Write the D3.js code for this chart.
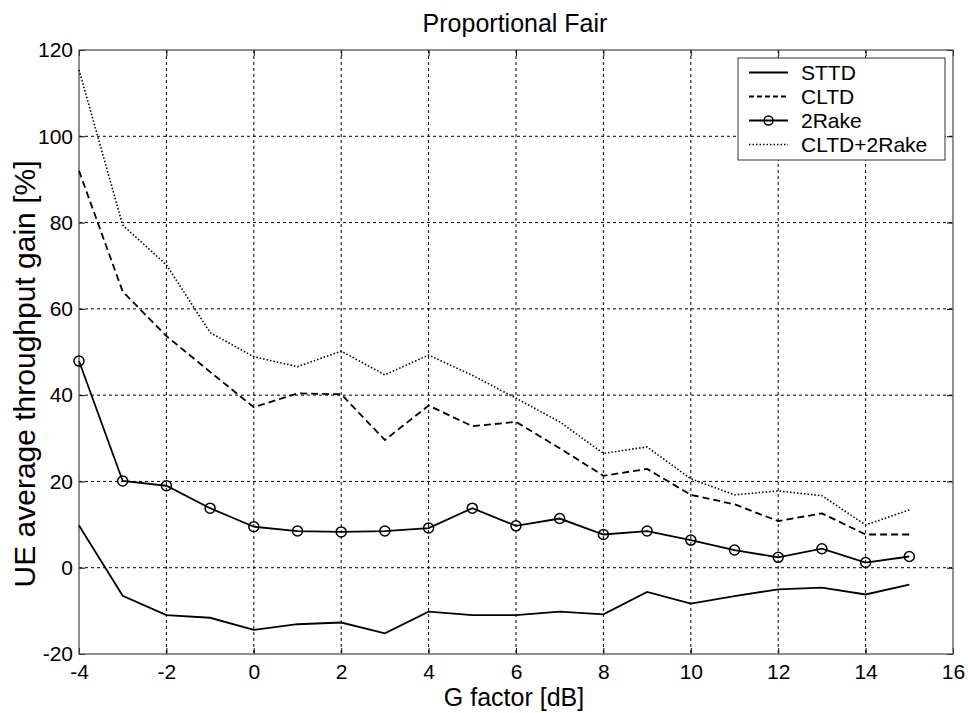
<!DOCTYPE html>
<html>
<head>
<meta charset="utf-8">
<script src="https://cdn.jsdelivr.net/npm/d3@7"></script>
<style>
body { margin: 0; background: #fff; }
svg { font-family: "Liberation Sans", Arial, sans-serif; }
</style>
</head>
<body>
<svg id="chart" width="968" height="713"></svg>
<script>
// G factor [dB]
const gFactor = [-4, -3, -2, -1, 0, 1, 2, 3, 4, 5, 6, 7, 8, 9, 10, 11, 12, 13, 14, 15];
const sttd = [9.8, -6.5, -11, -11.6, -14.4, -13.1, -12.7, -15.2, -10.2, -11, -11, -10.2, -10.8, -5.6, -8.3, -6.6, -5, -4.6, -6.2, -3.9];
const cltd = [92, 64, 53.7, 45.4, 37.2, 40.4, 40.2, 29.6, 37.6, 32.8, 33.8, 27.7, 21.3, 22.9, 16.9, 14.7, 10.8, 12.6, 7.7, 7.7];
const rake2 = [47.9, 20.1, 19, 13.8, 9.5, 8.5, 8.3, 8.5, 9.2, 13.8, 9.7, 11.4, 7.7, 8.5, 6.4, 4.1, 2.4, 4.4, 1.2, 2.6];
const cltdRake = [115.4, 79.4, 70.2, 54.5, 48.9, 46.6, 50.2, 44.7, 49.3, 44.6, 39.3, 33.8, 26.5, 28, 20.6, 16.9, 17.8, 16.7, 9.9, 13.4];
const xTicks = [-4, -2, 0, 2, 4, 6, 8, 10, 12, 14, 16];
const yTicks = [-20, 0, 20, 40, 60, 80, 100, 120];

const series = [
	{name: "STTD", values: sttd, dash: null, marker: false},
	{name: "CLTD", values: cltd, dash: "7,4", marker: false},
	{name: "2Rake", values: rake2, dash: null, marker: true},
	{name: "CLTD+2Rake", values: cltdRake, dash: "1.5,2", marker: false}
];

const plotLeft = 79, plotRight = 953, plotTop = 50, plotBottom = 654;
const svg = d3.select("#chart");

const x = d3.scaleLinear().domain([-4, 16]).range([plotLeft, plotRight]);
const y = d3.scaleLinear().domain([-20, 120]).range([plotBottom, plotTop]);
const fmt = d => String(d); // plain hyphen minus, like the original

// grid
svg.append("g")
	.selectAll("line")
	.data(xTicks.slice(1, -1))
	.join("line")
	.attr("x1", d => x(d)).attr("x2", d => x(d))
	.attr("y1", plotTop).attr("y2", plotBottom)
	.attr("stroke", "#000").attr("stroke-width", 1).attr("stroke-dasharray", "3,3");
svg.append("g")
	.selectAll("line")
	.data(yTicks.slice(1, -1))
	.join("line")
	.attr("x1", plotLeft).attr("x2", plotRight)
	.attr("y1", d => y(d)).attr("y2", d => y(d))
	.attr("stroke", "#000").attr("stroke-width", 1).attr("stroke-dasharray", "3,3");

// axes
svg.append("g")
	.attr("transform", "translate(0," + plotBottom + ")")
	.call(d3.axisBottom(x).tickValues(xTicks).tickSize(-6).tickPadding(10).tickFormat(fmt))
	.call(g => g.select(".domain").remove())
	.selectAll("text").attr("font-size", 21).attr("fill", "#000");
svg.append("g")
	.attr("transform", "translate(" + plotLeft + ",0)")
	.call(d3.axisLeft(y).tickValues(yTicks).tickSize(-6).tickPadding(6).tickFormat(fmt))
	.call(g => g.select(".domain").remove())
	.selectAll("text").attr("font-size", 21).attr("fill", "#000");
svg.append("g")
	.attr("transform", "translate(0," + plotTop + ")")
	.call(d3.axisTop(x).tickValues(xTicks).tickSize(-6).tickFormat(""))
	.call(g => g.select(".domain").remove());
svg.append("g")
	.attr("transform", "translate(" + plotRight + ",0)")
	.call(d3.axisRight(y).tickValues(yTicks).tickSize(-6).tickFormat(""))
	.call(g => g.select(".domain").remove());

svg.append("rect")
	.attr("x", plotLeft).attr("y", plotTop)
	.attr("width", plotRight - plotLeft).attr("height", plotBottom - plotTop)
	.attr("fill", "none").attr("stroke", "#555").attr("stroke-width", 1.3);

// lines
const line = d3.line()
	.x((d, i) => x(gFactor[i]))
	.y(d => y(d));

svg.append("g")
	.selectAll("path")
	.data(series)
	.join("path")
	.attr("d", d => line(d.values))
	.attr("fill", "none")
	.attr("stroke", "#000")
	.attr("stroke-width", d => d.dash === "1.5,2" ? 1.6 : 1.8)
	.attr("stroke-dasharray", d => d.dash);

svg.append("g")
	.selectAll("circle")
	.data(rake2)
	.join("circle")
	.attr("cx", (d, i) => x(gFactor[i]))
	.attr("cy", d => y(d))
	.attr("r", 5)
	.attr("fill", "none")
	.attr("stroke", "#000")
	.attr("stroke-width", 1.5);

// legend
const legend = svg.append("g");
legend.append("rect")
	.attr("x", 738).attr("y", 58)
	.attr("width", 207).attr("height", 102)
	.attr("fill", "#fff").attr("stroke", "#333").attr("stroke-width", 1);
const items = legend.selectAll("g.item")
	.data(series)
	.join("g")
	.attr("class", "item")
	.attr("transform", (d, i) => "translate(0," + (72.5 + i * 24) + ")");
items.append("line")
	.attr("x1", 749).attr("x2", 788)
	.attr("stroke", "#000")
	.attr("stroke-width", d => d.dash === "1.5,2" ? 1.6 : 1.8)
	.attr("stroke-dasharray", d => d.dash === "7,4" ? "5,3" : d.dash);
items.filter(d => d.marker).append("circle")
	.attr("cx", 768.5).attr("r", 4.5)
	.attr("fill", "none").attr("stroke", "#000").attr("stroke-width", 1.5);
items.append("text")
	.attr("x", 801).attr("dy", "0.35em")
	.attr("font-size", 21)
	.text(d => d.name);

// titles
svg.append("text")
	.attr("x", 515).attr("y", 32)
	.attr("text-anchor", "middle").attr("font-size", 25)
	.text("Proportional Fair");
svg.append("text")
	.attr("x", 514).attr("y", 706)
	.attr("text-anchor", "middle").attr("font-size", 25)
	.text("G factor [dB]");
svg.append("text")
	.attr("transform", "translate(35,374) rotate(-90)")
	.attr("text-anchor", "middle").attr("font-size", 30)
	.text("UE average throughput gain [%]");
</script>
</body>
</html>
